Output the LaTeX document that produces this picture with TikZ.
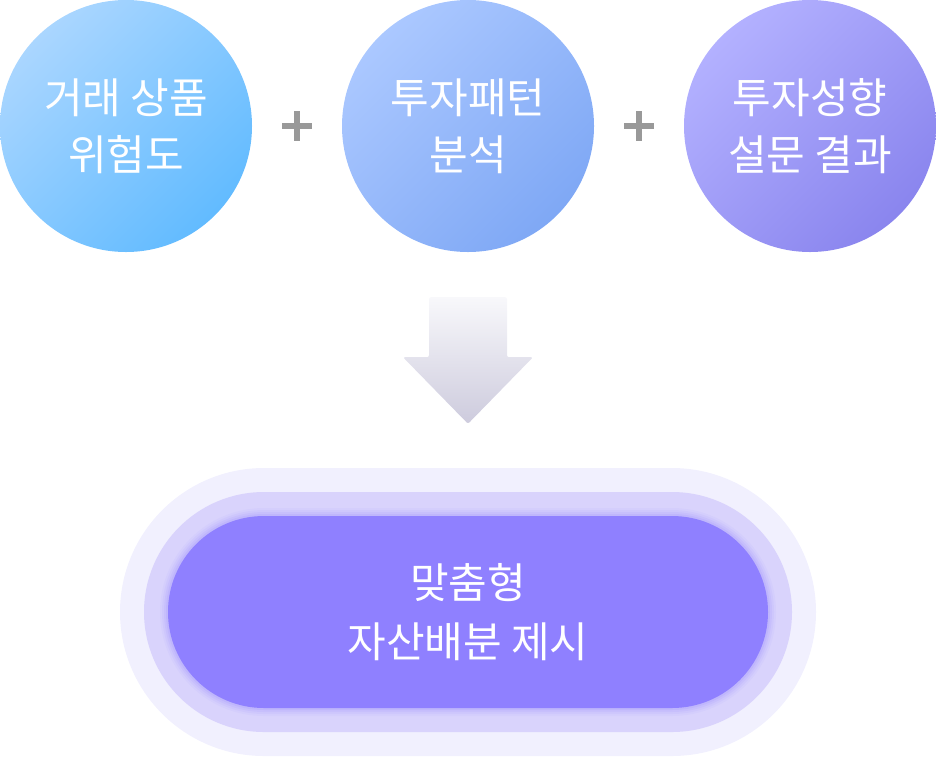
\documentclass[tikz,border=0pt]{standalone}
\usepackage{fontspec}
\newfontfamily\krfont{Noto Sans CJK KR}
\usetikzlibrary{positioning,calc}

\definecolor{skyA}{HTML}{AAD6FF}
\definecolor{skyB}{HTML}{62BBFF}
\definecolor{blueA}{HTML}{ABC8FF}
\definecolor{blueB}{HTML}{7FA8F5}
\definecolor{violetA}{HTML}{B3B1FF}
\definecolor{violetB}{HTML}{8A85EE}
\definecolor{haloOut}{HTML}{F1F0FE}
\definecolor{haloIn}{HTML}{D9D3FC}
\definecolor{pillFill}{HTML}{8F80FF}
\definecolor{plusGray}{HTML}{999999}
\definecolor{arrowTop}{HTML}{F8F8FB}
\definecolor{arrowBot}{HTML}{CDCBDD}

\begin{document}
\begin{tikzpicture}[x=1pt, y=-1pt,
    bubble/.style 2 args={circle, minimum size=252pt, inner sep=0pt,
      top color=#1, bottom color=#2, shading angle=45,
      text=white, align=center, font=\krfont\fontsize{42}{57}\selectfont},
    plusmark/.style={minimum size=30pt, inner sep=0pt},
    pill/.style={rectangle, inner sep=0pt, text=white, align=center,
      font=\krfont\fontsize{42}{59}\selectfont},
    arrowfill/.style={top color=arrowTop, bottom color=arrowBot, rounded corners=2pt}]
            \useasboundingbox (0,0) rectangle (936,756);

            % Circles with labels
            \node at (126,126) [bubble={skyA}{skyB}] (risk) {거래 상품\\위험도};
            \node at (468,126) [bubble={blueA}{blueB}] (pattern) {투자패턴\\분석};
            \node at (810,126) [bubble={violetA}{violetB}] (survey) {투자성향\\설문 결과};

            % Plus signs between circles
            \node at (297,126) [plusmark] (plusA) {};
            \node at (639,126) [plusmark] (plusB) {};
            \foreach \p in {plusA, plusB} {
              \fill[plusGray] ([yshift=3pt]\p.west) rectangle ([yshift=-3pt]\p.east);
              \fill[plusGray] ([xshift=-3pt]\p.north) rectangle ([xshift=3pt]\p.south);
            }

            % Result with halo
            \fill[haloOut, rounded corners=144pt] (120,468) rectangle (816,756);
            \fill[haloIn, rounded corners=120pt] (144,492) rectangle (792,732);
            \foreach \w/\o in {16/0.06, 12/0.08, 8/0.1, 4/0.14}
              \draw[pillFill, opacity=\o, line width=\w pt, rounded corners=96pt] (168,516) rectangle (768,708);
            \node at (468,612) [pill, minimum width=600pt, minimum height=192pt,
              fill=pillFill, rounded corners=96pt] (result) {맞춤형\\자산배분 제시};

            % Block arrow
            \path[arrowfill]
              ([xshift=-39pt,yshift=-45pt]pattern.south) -- ([xshift=39pt,yshift=-45pt]pattern.south)
              -- ([xshift=39pt,yshift=-105pt]pattern.south) -- ([xshift=65pt,yshift=-105pt]pattern.south)
              -- ([yshift=92pt]result.north) -- ([xshift=-65pt,yshift=-105pt]pattern.south)
              -- ([xshift=-39pt,yshift=-105pt]pattern.south) -- cycle;

            \end{tikzpicture}
\end{document}
